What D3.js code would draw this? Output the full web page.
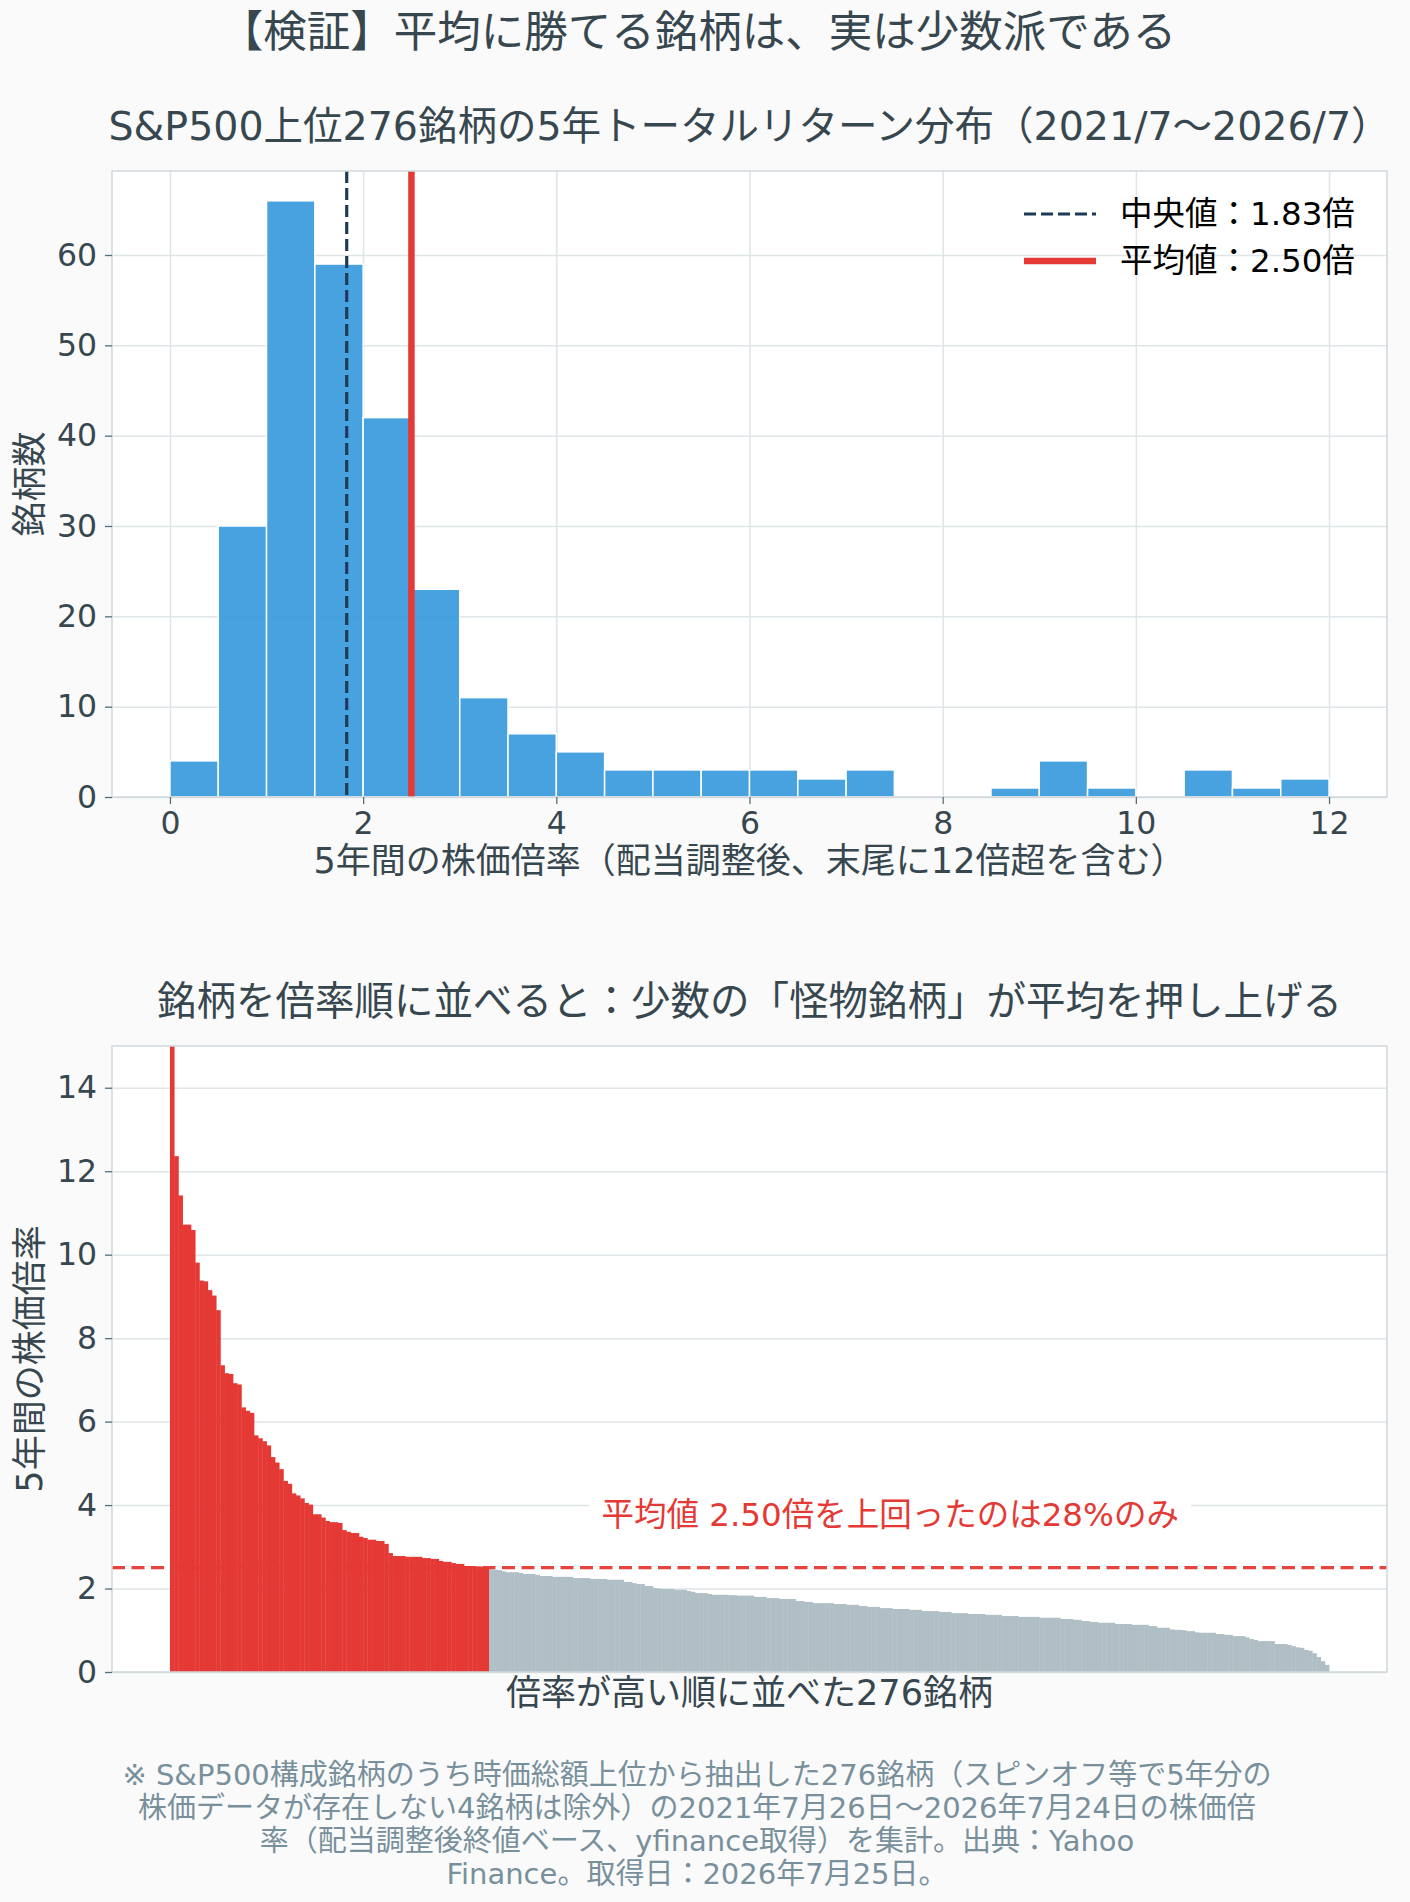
<!DOCTYPE html>
<html>
<head>
<meta charset="utf-8">
<script src="https://cdn.jsdelivr.net/npm/d3@7"></script>
<style>
  html, body { margin: 0; padding: 0; background: #fafafa; }
  svg { display: block; }
  text { font-family: "DejaVu Sans", "Noto Sans CJK JP", sans-serif; }
</style>
</head>
<body>
<svg id="chart" width="1410" height="1902"></svg>
<script>
// histogram: 0.5-wide bins, last bin also holds everything above 12
var binEdges = [0, 0.5, 1, 1.5, 2, 2.5, 3, 3.5, 4, 4.5, 5, 5.5, 6, 6.5, 7, 7.5, 8, 8.5, 9, 9.5, 10, 10.5, 11, 11.5, 12];
var binCounts = [4, 30, 66, 59, 42, 23, 11, 7, 5, 3, 3, 3, 3, 2, 3, 0, 0, 1, 4, 1, 0, 3, 1, 2];
var medianValue = 1.83;
var meanValue = 2.50;

// 276 stocks, 5-year price multiple, sorted high -> low
var sortedMultiples = [
  30.0, 12.36, 11.42, 10.72, 10.72, 10.59, 9.81, 9.38, 9.36, 9.15,
  9.02, 8.67, 7.35, 7.16, 7.14, 6.92, 6.89, 6.34, 6.26, 6.21,
  5.67, 5.60, 5.53, 5.43, 5.15, 5.02, 4.86, 4.58, 4.51, 4.28,
  4.23, 4.16, 4.05, 4.01, 3.78, 3.78, 3.70, 3.62, 3.59, 3.59,
  3.57, 3.40, 3.36, 3.33, 3.33, 3.24, 3.21, 3.17, 3.17, 3.14,
  3.14, 3.07, 2.85, 2.78, 2.78, 2.78, 2.76, 2.76, 2.76, 2.76,
  2.73, 2.73, 2.71, 2.71, 2.66, 2.64, 2.64, 2.61, 2.59, 2.59,
  2.54, 2.53, 2.53, 2.53, 2.52, 2.50, 2.46, 2.45, 2.44, 2.41,
  2.39, 2.39, 2.39, 2.37, 2.35, 2.35, 2.35, 2.33, 2.30, 2.30,
  2.30, 2.28, 2.28, 2.28, 2.28, 2.28, 2.25, 2.25, 2.25, 2.25,
  2.23, 2.23, 2.23, 2.23, 2.21, 2.21, 2.21, 2.21, 2.16, 2.16,
  2.13, 2.11, 2.11, 2.06, 2.06, 2.01, 2.00, 1.99, 1.99, 1.99,
  1.97, 1.97, 1.97, 1.94, 1.92, 1.89, 1.89, 1.89, 1.87, 1.85,
  1.85, 1.85, 1.85, 1.84, 1.84, 1.83, 1.83, 1.83, 1.83, 1.80,
  1.80, 1.80, 1.77, 1.77, 1.77, 1.75, 1.75, 1.75, 1.75, 1.70,
  1.70, 1.68, 1.68, 1.65, 1.65, 1.65, 1.65, 1.65, 1.63, 1.63,
  1.63, 1.61, 1.61, 1.61, 1.58, 1.58, 1.56, 1.56, 1.56, 1.53,
  1.53, 1.53, 1.51, 1.51, 1.51, 1.51, 1.49, 1.49, 1.49, 1.46,
  1.46, 1.46, 1.46, 1.44, 1.44, 1.44, 1.41, 1.41, 1.41, 1.41,
  1.39, 1.39, 1.39, 1.39, 1.37, 1.37, 1.37, 1.37, 1.34, 1.34,
  1.34, 1.34, 1.32, 1.32, 1.32, 1.32, 1.32, 1.30, 1.30, 1.30,
  1.30, 1.30, 1.27, 1.27, 1.27, 1.25, 1.25, 1.22, 1.22, 1.20,
  1.20, 1.18, 1.18, 1.18, 1.18, 1.15, 1.15, 1.15, 1.15, 1.13,
  1.13, 1.13, 1.13, 1.10, 1.10, 1.06, 1.06, 1.06, 1.02, 1.01,
  1.01, 1.00, 0.98, 0.98, 0.95, 0.94, 0.94, 0.94, 0.94, 0.91,
  0.91, 0.89, 0.89, 0.86, 0.86, 0.86, 0.83, 0.79, 0.77, 0.74,
  0.74, 0.74, 0.74, 0.67, 0.67, 0.67, 0.65, 0.62, 0.59, 0.58,
  0.53, 0.51, 0.45, 0.36, 0.26, 0.17
];

var histXTicks = [0, 2, 4, 6, 8, 10, 12];
var histYTicks = [0, 10, 20, 30, 40, 50, 60];
var rankYTicks = [0, 2, 4, 6, 8, 10, 12, 14];

var figTitle = '【検証】平均に勝てる銘柄は、実は少数派である';
var histTitle = 'S&P500上位276銘柄の5年トータルリターン分布（2021/7〜2026/7）';
var histXLabel = '5年間の株価倍率（配当調整後、末尾に12倍超を含む）';
var histYLabel = '銘柄数';
var rankTitle = '銘柄を倍率順に並べると：少数の「怪物銘柄」が平均を押し上げる';
var rankXLabel = '倍率が高い順に並べた276銘柄';
var rankYLabel = '5年間の株価倍率';
var footnoteLines = [
  '※ S&P500構成銘柄のうち時価総額上位から抽出した276銘柄（スピンオフ等で5年分の',
  '株価データが存在しない4銘柄は除外）の2021年7月26日〜2026年7月24日の株価倍',
  '率（配当調整後終値ベース、yfinance取得）を集計。出典：Yahoo',
  'Finance。取得日：2026年7月25日。'
];

var textColor = '#37474f';
var gridColor = '#dfe5e8';
var spineColor = '#cfd8dc';
var blue = '#3498db';
var red = '#e53935';
var gray = '#b0bec5';
var navy = '#1f3a56';

var svg = d3.select('#chart');
svg.append('rect').attr('width', 1410).attr('height', 1902).attr('fill', '#fafafa');

svg.append('text')
  .attr('x', 698).attr('y', 32)
  .attr('text-anchor', 'middle').attr('dominant-baseline', 'central')
  .attr('font-size', 43.5).attr('fill', textColor)
  .text(figTitle);

// common frame: white background + clip for the marks
function makePanel(left, top, w, h, name) {
  var g = svg.append('g').attr('transform', 'translate(' + left + ',' + top + ')');
  g.append('rect').attr('width', w).attr('height', h).attr('fill', '#ffffff');
  g.append('clipPath').attr('id', 'clip-' + name)
    .append('rect').attr('width', w).attr('height', h);
  return g;
}

function styleAxis(sel) {
  sel.select('.domain').remove();
  sel.selectAll('.tick line').attr('stroke', '#546e7a').attr('stroke-width', 1.3);
  sel.selectAll('.tick text').attr('fill', textColor).attr('font-size', 31.5);
}

function drawGrid(g, axis) {
  var grid = g.append('g').call(axis);
  grid.select('.domain').remove();
  grid.selectAll('.tick line').attr('stroke', gridColor).attr('stroke-width', 1.5);
  grid.selectAll('.tick text').remove();
  return grid;
}

// ---- top: histogram
var W = 1275, H = 626;
var histG = makePanel(112, 171, W, H, 'hist');
var hx = d3.scaleLinear().domain([-0.6, 12.6]).range([0, W]);
var hy = d3.scaleLinear().domain([0, 69.3]).range([H, 0]);

drawGrid(histG, d3.axisBottom(hx).tickValues(histXTicks).tickSize(H).tickFormat(''));
drawGrid(histG, d3.axisLeft(hy).tickValues(histYTicks).tickSize(-W).tickFormat(''));

var bins = binCounts.map(function(c, i) { return {x0: binEdges[i], x1: binEdges[i + 1], count: c}; });
histG.append('g').attr('clip-path', 'url(#clip-hist)')
  .selectAll('rect').data(bins.filter(function(d) { return d.count > 0; }))
  .enter().append('rect')
    .attr('x', function(d) { return hx(d.x0); })
    .attr('y', function(d) { return hy(d.count); })
    .attr('width', function(d) { return hx(d.x1) - hx(d.x0); })
    .attr('height', function(d) { return hy(0) - hy(d.count); })
    .attr('fill', blue).attr('fill-opacity', 0.9)
    .attr('stroke', '#ffffff').attr('stroke-width', 1.5);

histG.append('line')
  .attr('x1', hx(medianValue)).attr('x2', hx(medianValue))
  .attr('y1', 0).attr('y2', H)
  .attr('stroke', navy).attr('stroke-width', 3.2).attr('stroke-dasharray', '12,5');
histG.append('line')
  .attr('x1', hx(meanValue)).attr('x2', hx(meanValue))
  .attr('y1', 0).attr('y2', H)
  .attr('stroke', red).attr('stroke-width', 6.5);

histG.append('rect').attr('width', W).attr('height', H)
  .attr('fill', 'none').attr('stroke', spineColor).attr('stroke-width', 1.5);

histG.append('g').attr('transform', 'translate(0,' + H + ')')
  .call(d3.axisBottom(hx).tickValues(histXTicks).tickSize(7).tickPadding(8))
  .call(styleAxis);
histG.append('g')
  .call(d3.axisLeft(hy).tickValues(histYTicks).tickSize(7).tickPadding(8))
  .call(styleAxis);

histG.append('text')
  .attr('x', W / 2).attr('y', -45)
  .attr('text-anchor', 'middle').attr('dominant-baseline', 'central')
  .attr('font-size', 39.5).attr('fill', textColor)
  .text(histTitle);
histG.append('text')
  .attr('x', W / 2).attr('y', H + 64)
  .attr('text-anchor', 'middle').attr('dominant-baseline', 'central')
  .attr('font-size', 35).attr('fill', textColor)
  .text(histXLabel);
histG.append('text')
  .attr('transform', 'translate(' + (-82) + ',' + (H / 2) + ') rotate(-90)')
  .attr('text-anchor', 'middle').attr('dominant-baseline', 'central')
  .attr('font-size', 35).attr('fill', textColor)
  .text(histYLabel);

// legend
var legendItems = [
  {label: '中央値：' + medianValue.toFixed(2) + '倍', color: navy, width: 3.2, dash: '12,5'},
  {label: '平均値：' + meanValue.toFixed(2) + '倍', color: red, width: 6.5, dash: null}
];
var legend = histG.append('g').attr('transform', 'translate(' + (1022 - 112) + ',' + (214 - 171) + ')');
var item = legend.selectAll('g').data(legendItems).enter().append('g')
  .attr('transform', function(d, i) { return 'translate(0,' + (i * 47) + ')'; });
item.append('line')
  .attr('x1', 2).attr('x2', 74)
  .attr('stroke', function(d) { return d.color; })
  .attr('stroke-width', function(d) { return d.width; })
  .attr('stroke-dasharray', function(d) { return d.dash; });
item.append('text')
  .attr('x', 98).attr('dominant-baseline', 'central')
  .attr('font-size', 32.5).attr('fill', '#000000')
  .text(function(d) { return d.label; });

// ---- bottom: ranked bars
var rankG = makePanel(112, 1046, W, H, 'rank');
var n = sortedMultiples.length;
var rx = d3.scaleLinear().domain([-0.5 - n * 0.05, n - 0.5 + n * 0.05]).range([0, W]);
var ry = d3.scaleLinear().domain([0, 15]).range([H, 0]);

drawGrid(rankG, d3.axisLeft(ry).tickValues(rankYTicks).tickSize(-W).tickFormat(''));

// annotation box sits above the grid, below bars
var aboveCount = sortedMultiples.filter(function(v) { return v >= meanValue; }).length;
var share = Math.round(aboveCount / n * 100);
var note = rankG.append('g');
var noteText = note.append('text')
  .attr('x', rx(171)).attr('y', ry(3.75) - 1)
  .attr('text-anchor', 'middle').attr('dominant-baseline', 'central')
  .attr('font-size', 32.5).attr('fill', red)
  .text('平均値 ' + meanValue.toFixed(2) + '倍を上回ったのは' + share + '%のみ');
var bb = noteText.node().getBBox();
note.insert('rect', 'text')
  .attr('x', bb.x - 12).attr('y', bb.y - 6)
  .attr('width', bb.width + 24).attr('height', bb.height + 12)
  .attr('fill', '#ffffff');

rankG.append('g').attr('clip-path', 'url(#clip-rank)')
  .selectAll('rect').data(sortedMultiples)
  .enter().append('rect')
    .attr('x', function(d, i) { return rx(i - 0.5); })
    .attr('y', function(d) { return ry(d); })
    .attr('width', rx(1) - rx(0) + 0.4)
    .attr('height', function(d) { return ry(0) - ry(d); })
    .attr('fill', function(d) { return d >= meanValue ? red : gray; });

rankG.append('line')
  .attr('x1', 0).attr('x2', W)
  .attr('y1', ry(meanValue)).attr('y2', ry(meanValue))
  .attr('stroke', red).attr('stroke-width', 3.2).attr('stroke-opacity', 0.95)
  .attr('stroke-dasharray', '13,6.5');

rankG.append('rect').attr('width', W).attr('height', H)
  .attr('fill', 'none').attr('stroke', spineColor).attr('stroke-width', 1.5);

rankG.append('g')
  .call(d3.axisLeft(ry).tickValues(rankYTicks).tickSize(7).tickPadding(8))
  .call(styleAxis);

rankG.append('text')
  .attr('x', W / 2).attr('y', -45)
  .attr('text-anchor', 'middle').attr('dominant-baseline', 'central')
  .attr('font-size', 39.5).attr('fill', textColor)
  .text(rankTitle);
rankG.append('text')
  .attr('x', W / 2).attr('y', H + 21)
  .attr('text-anchor', 'middle').attr('dominant-baseline', 'central')
  .attr('font-size', 35).attr('fill', textColor)
  .text(rankXLabel);
rankG.append('text')
  .attr('transform', 'translate(' + (-82) + ',' + (H / 2) + ') rotate(-90)')
  .attr('text-anchor', 'middle').attr('dominant-baseline', 'central')
  .attr('font-size', 35).attr('fill', textColor)
  .text(rankYLabel);

// footnote
svg.append('g').selectAll('text').data(footnoteLines)
  .enter().append('text')
    .attr('x', 697)
    .attr('y', function(d, i) { return 1775 + i * 33; })
    .attr('text-anchor', 'middle').attr('dominant-baseline', 'central')
    .attr('font-size', 29).attr('fill', '#78909c')
    .text(function(d) { return d; });
</script>
</body>
</html>
